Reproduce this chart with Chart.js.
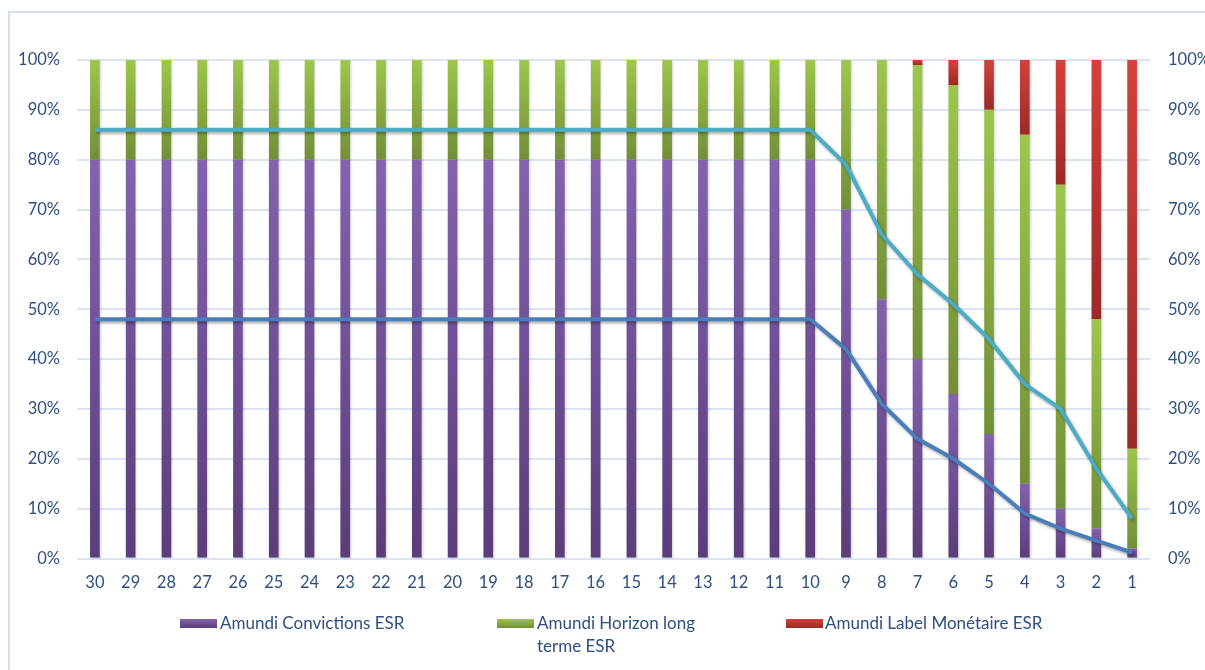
<!DOCTYPE html>
<html>
<head>
<meta charset="utf-8">
<script src="https://cdn.jsdelivr.net/npm/chart.js@4/dist/chart.umd.min.js"></script>
<style>
  html, body { margin: 0; padding: 0; background: #ffffff; }
  body { width: 1205px; height: 670px; position: relative; overflow: hidden; font-family: Lato, "Open Sans", sans-serif; }
  #frame { position: absolute; left: 8px; top: 11px; width: 1300px; height: 800px; border: 2px solid #D4E0F1; box-sizing: border-box; }
  #wrap { position: absolute; left: 0; top: 0; width: 1205px; height: 670px; }
  .lg { position: absolute; color: #2E4F82; font-size: 17px; line-height: 23px; }
  .box { position: absolute; width: 37px; height: 9px; }
</style>
</head>
<body>
<div id="frame"></div>
<div id="wrap"><canvas id="c" width="1205" height="670"></canvas></div>
<div id="legend"></div>
<script>
// ---- data ----
const categories = ['30','29','28','27','26','25','24','23','22','21','20','19','18','17','16','15','14','13','12','11','10','9','8','7','6','5','4','3','2','1'];
const convictions = [80,80,80,80,80,80,80,80,80,80,80,80,80,80,80,80,80,80,80,80,80,70,52,40,33,25,15,10,6,2];
const horizon     = [20,20,20,20,20,20,20,20,20,20,20,20,20,20,20,20,20,20,20,20,20,30,48,59,62,65,70,65,42,20];
const monetaire   = [0,0,0,0,0,0,0,0,0,0,0,0,0,0,0,0,0,0,0,0,0,0,0,1,5,10,15,25,52,78];
const lineDark    = [48,48,48,48,48,48,48,48,48,48,48,48,48,48,48,48,48,48,48,48,48,42,31,24,20,15,9,6,3.6,1.2];
const lineLight   = [86,86,86,86,86,86,86,86,86,86,86,86,86,86,86,86,86,86,86,86,86,79,65,57,51,44,35,30,18,8];
const yTickLabels = ['0%','10%','20%','30%','40%','50%','60%','70%','80%','90%','100%'];
const seriesNames = ['Amundi Convictions ESR', 'Amundi Horizon long terme ESR', 'Amundi Label Monétaire ESR'];

const barSets = [convictions, horizon, monetaire];
const barColors = [['#8462AE', '#5A3D7A'], ['#9EC64B', '#728E38'], ['#D5403B', '#9A2A27']];
const TXT = '#2E4F82';

function segGrad(d) {
  return function (ctx) {
    const cols = barColors[d];
    const chart = ctx.chart;
    if (!chart.chartArea || ctx.type !== 'data' || !chart.scales.y) return cols[0];
    const i = ctx.dataIndex;
    let base = 0;
    for (let k = 0; k < d; k++) base += barSets[k][i];
    const v = barSets[d][i];
    const y0 = chart.scales.y.getPixelForValue(base);
    const y1 = chart.scales.y.getPixelForValue(base + v);
    if (!(y0 > y1 + 0.5)) return cols[0];
    const g = chart.ctx.createLinearGradient(0, y1, 0, y0);
    g.addColorStop(0, cols[0]);
    g.addColorStop(1, cols[1]);
    return g;
  };
}

const shadowPlugin = {
  id: 'shadow',
  beforeDatasetDraw(chart, args) {
    const ds = chart.data.datasets[args.index];
    const c = chart.ctx;
    c.save();
    if (ds.type === 'line') {
      c.shadowColor = 'rgba(0,0,0,0.35)';
      c.shadowBlur = 3;
      c.shadowOffsetX = 1.5;
      c.shadowOffsetY = 2;
    } else {
      c.shadowColor = 'rgba(0,0,0,0.18)';
      c.shadowBlur = 2;
      c.shadowOffsetX = 1;
      c.shadowOffsetY = 1;
    }
  },
  afterDatasetDraw(chart) { chart.ctx.restore(); }
};

const datasets = [];
barSets.forEach((arr, d) => {
  datasets.push({
    type: 'bar', label: seriesNames[d], data: arr, yAxisID: 'y', order: 2,
    backgroundColor: segGrad(d), borderWidth: 0,
    barPercentage: 0.27, categoryPercentage: 1.0
  });
});
datasets.push({ type: 'line', label: 'dark', data: lineDark, yAxisID: 'y2', order: 0,
  borderColor: '#4A7EBB', borderWidth: 4, pointRadius: 0, tension: 0, fill: false });
datasets.push({ type: 'line', label: 'light', data: lineLight, yAxisID: 'y2', order: 0,
  borderColor: '#4BACC6', borderWidth: 4, pointRadius: 0, tension: 0, fill: false });

const font = { family: 'Lato', size: 16.5 };

new Chart(document.getElementById('c'), {
  data: { labels: categories, datasets },
  plugins: [shadowPlugin],
  options: {
    responsive: false,
    animation: false,
    devicePixelRatio: 1,
    layout: { padding: { top: 60, bottom: 78.5, left: 0, right: 0 } },
    plugins: { legend: { display: false }, tooltip: { enabled: false } },
    scales: {
      x: {
        stacked: true,
        grid: { display: false, drawTicks: false },
        border: { display: false },
        ticks: { color: TXT, font, padding: 14, maxRotation: 0, autoSkip: false },
        afterFit(s) { s.height = 33; }
      },
      y: {
        stacked: true, min: 0, max: 100, position: 'left',
        grid: { color: '#D9E3F2', lineWidth: 2, drawTicks: false },
        border: { display: false },
        ticks: { stepSize: 10, color: TXT, font, padding: 17, callback: v => yTickLabels[Math.round(v / 10)] },
        afterFit(s) { s.width = 77; }
      },
      y2: {
        min: 0, max: 100, position: 'right',
        grid: { display: false, drawTicks: false },
        border: { display: false },
        ticks: { stepSize: 10, color: TXT, font, padding: 18, callback: v => yTickLabels[Math.round(v / 10)] },
        afterFit(s) { s.width = 55; }
      }
    }
  }
});

// ---- legend (HTML) ----
const legendPos = [
  { box: 180, text: 220, lines: ['Amundi Convictions ESR'] },
  { box: 497, text: 537, lines: ['Amundi Horizon long', 'terme ESR'] },
  { box: 786, text: 825, lines: ['Amundi Label Monétaire ESR'] }
];
const lg = document.getElementById('legend');
legendPos.forEach((p, d) => {
  const b = document.createElement('div');
  b.className = 'box';
  b.style.left = p.box + 'px';
  b.style.top = '619px';
  b.style.background = 'linear-gradient(' + barColors[d][0] + ',' + barColors[d][1] + ')';
  lg.appendChild(b);
  const t = document.createElement('div');
  t.className = 'lg';
  t.style.left = p.text + 'px';
  t.style.top = '611px';
  t.innerHTML = p.lines.join('<br>');
  lg.appendChild(t);
});
</script>
</body>
</html>
